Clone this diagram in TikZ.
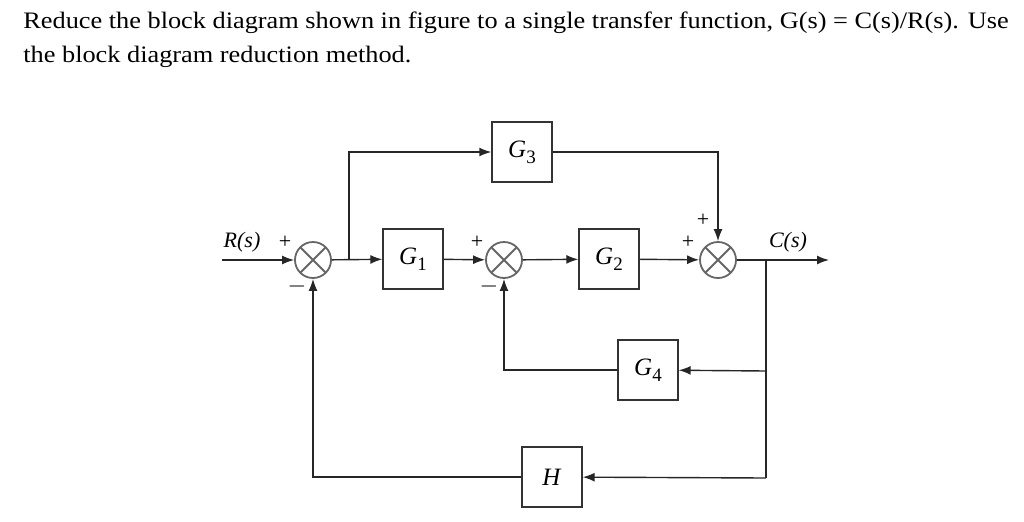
\documentclass[tikz,border=0pt]{standalone}
\usepackage{fontspec}
\setmainfont{Liberation Serif}
\newfontfamily\questionfont[FakeStretch=1.115]{Liberation Serif}
\usetikzlibrary{arrows.meta, positioning, calc}
\newcommand{\gsub}[2]{\textit{#1}\raisebox{-0.55ex}{\fontsize{9.5}{10}\selectfont #2}}
\tikzset{
    block/.style={rectangle, draw=black!80, line width=0.7pt, minimum width=30pt, minimum height=30pt, inner sep=0pt, font=\fontsize{12.5}{13}\selectfont},
    sumjunc/.style={circle, draw=black!60, line width=0.9pt, minimum size=18pt, inner sep=0pt,
        path picture={\draw[black!60, line width=0.9pt] (path picture bounding box.north west) -- (path picture bounding box.south east)
            (path picture bounding box.north east) -- (path picture bounding box.south west);}},
    arrow/.style={-{Latex[length=6pt,width=4.5pt]}, line width=0.7pt, draw=black!85},
    wire/.style={line width=0.7pt, draw=black!85},
    sgn/.style={font=\fontsize{11}{11}\selectfont, inner sep=0pt},
    lbl/.style={font=\fontsize{11}{11}\selectfont\itshape, inner sep=0pt},
    question/.style={anchor=base west, inner sep=0pt, font=\questionfont\fontsize{11.8}{12}\selectfont}
}

\begin{document}
\begin{tikzpicture}[x=0.5pt, y=-0.5pt]
			\useasboundingbox (0,0) rectangle (1024,521);
			% Question text
			\node (title) [question] at (23,28) {Reduce the block diagram shown in figure to a single transfer function, G(s) = C(s)/R(s). Use};
			\node (titlecont) [question] at (23,62) {the block diagram reduction method.};
			
			% Forward path
			\node (s1) [sumjunc] at (313,260) {};
			\node (g1) [block] at (413,259) {\gsub{G}{1}};
			\node (s2) [sumjunc] at (504,260) {};
			\node (g2) [block] at (609,259) {\gsub{G}{2}};
			\node (s3) [sumjunc] at (718,260) {};
			\node (g3) [block] at (522,152) {\gsub{G}{3}};
			
			% Feedback blocks
			\node (g4) [block] at (648,370) {\gsub{G}{4}};
			\node (h) [block] at (552,477) {\textit{H}};
			
			% Signs and labels
			\node (p1) [sgn] at (285,242) {+};
			\node (m1) [sgn] at (297,286) {\fontsize{12}{12}\selectfont$-$};
			\node (p2) [sgn] at (477,242) {+};
			\node (m2) [sgn] at (489,286) {\fontsize{12}{12}\selectfont$-$};
			\node (p3) [sgn] at (688,242) {+};
			\node (p4) [sgn] at (703,220) {+};
			\node (rs) [lbl] at (242,242) {R(s)};
			\node (cs) [lbl] at (788,242) {C(s)};
			
			% Branch points
			\coordinate (rin) at (222,260);
			\coordinate (cout) at (829,260);
			\coordinate (br1) at (349,260);
			\coordinate (br2) at (766,260);
			\coordinate (br3) at (766,371);
			\coordinate (br4) at (766,478);
			
			% Connections
			\draw [arrow] (rin) -- (s1);
			\draw [arrow] (s1) -- (g1);
			\draw [arrow] (g1) -- (s2);
			\draw [arrow] (s2) -- (g2);
			\draw [arrow] (g2) -- (s3);
			\draw [arrow] (s3) -- (cout);
			
			\draw [arrow] (br1) |- (g3);
			\draw [arrow] (g3) -| (s3);
			
			\draw [wire] (br2) -- (br4);
			\draw [arrow] (br3) -- (g4);
			\draw [arrow] (br4) -- (h);
			\draw [arrow] (g4) -| (s2);
			\draw [arrow] (h) -| (s1);
		\end{tikzpicture}
\end{document}
